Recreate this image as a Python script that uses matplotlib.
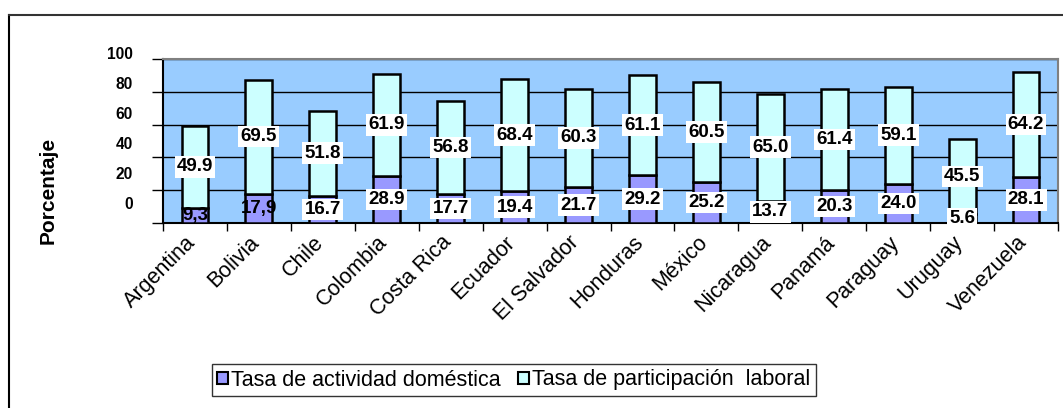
import numpy as np
import matplotlib
matplotlib.use("Agg")
import matplotlib.pyplot as plt
import matplotlib.transforms as mtransforms
from matplotlib.lines import Line2D

plt.rcParams['font.family'] = ['Liberation Sans', 'DejaVu Sans']

# Data
paises = ['Argentina', 'Bolivia', 'Chile', 'Colombia', 'Costa Rica', 'Ecuador',
          'El Salvador', 'Honduras', 'México', 'Nicaragua', 'Panamá', 'Paraguay',
          'Uruguay', 'Venezuela']
domestica = [9.3, 17.9, 16.7, 28.9, 17.7, 19.4, 21.7, 29.2, 25.2, 13.7, 20.3, 24.0, 5.6, 28.1]
laboral = [49.9, 69.5, 51.8, 61.9, 56.8, 68.4, 60.3, 61.1, 60.5, 65.0, 61.4, 59.1, 45.5, 64.2]
yticks = [0, 20, 40, 60, 80, 100]
# bottom labels drawn without white box and with decimal comma (as in the original)
sin_caja = ['Argentina', 'Bolivia']

c_dom = '#9999FF'
c_lab = '#CCFFFF'
c_bg = '#99CCFF'

W, H = 1063, 408
fig = plt.figure(figsize=(W / 100, H / 100), dpi=100)
ax = fig.add_axes([163 / W, 1 - 223 / H, 895 / W, 164 / H])
ax.set_facecolor(c_bg)

x = np.arange(len(paises))
dom = np.array(domestica)
lab = np.array(laboral)
ax.bar(x, dom, width=0.42, color=c_dom, edgecolor='black', linewidth=1.8, zorder=3,
       label='Tasa de actividad doméstica')
ax.bar(x, lab, bottom=dom, width=0.42, color=c_lab, edgecolor='black', linewidth=1.8, zorder=3,
       label='Tasa de participación  laboral')

# Data labels
box = dict(boxstyle='square,pad=0.12', fc='white', ec='none')
for i, p in enumerate(paises):
    if p in sin_caja:
        ax.text(x[i], dom[i] / 2, f"{dom[i]:.1f}".replace('.', ','), ha='center', va='center',
                fontsize=13.5, fontweight='bold', zorder=5, clip_on=False)
    else:
        ax.text(x[i], dom[i] / 2, f"{dom[i]:.1f}", ha='center', va='center',
                fontsize=13.5, fontweight='bold', bbox=box, zorder=5, clip_on=False)
    ax.text(x[i], dom[i] + lab[i] / 2, f"{lab[i]:.1f}", ha='center', va='center',
            fontsize=13.5, fontweight='bold', bbox=box, zorder=5)

ax.set_xlim(-0.5, len(paises) - 0.5)
ax.set_ylim(0, 100)

# Grid + ticks
ax.set_yticks(yticks)
ax.set_yticklabels([])
ax.yaxis.grid(True, color='black', linewidth=1.0, zorder=1)
ax.tick_params(axis='y', direction='out', length=8, width=1.0, color='black')

ax.set_xticks(x)
ax.set_xticklabels(paises, rotation=45, ha='right', fontsize=15.5)
ax.set_xticks(np.arange(len(paises) + 1) - 0.5, minor=True)
ax.tick_params(axis='x', which='major', length=0, pad=6.5)
ax.tick_params(axis='x', which='minor', direction='out', length=6, width=1.0, color='black')
shift = mtransforms.ScaledTranslation(5 / 100, 0, fig.dpi_scale_trans)
for t in ax.get_xticklabels():
    t.set_transform(t.get_transform() + shift)

# y tick labels sit a bit off the gridlines in the original
trans = mtransforms.blended_transform_factory(fig.transFigure, ax.transData)
for v in yticks:
    ax.text(133 / W, 11 + v * 0.915, str(v), transform=trans, ha='right', va='center',
            fontsize=11.2, fontweight='bold', clip_on=False)

for s in ['left', 'bottom']:
    ax.spines[s].set_color('black')
    ax.spines[s].set_linewidth(1.5)
for s in ['top', 'right']:
    ax.spines[s].set_color('#808080')
    ax.spines[s].set_linewidth(1.5)

fig.text(48 / W, 1 - 190 / H, 'Porcentaje', rotation=90, ha='center', va='center',
         fontsize=15, fontweight='bold')

leg = fig.legend(loc='center', bbox_to_anchor=(514 / W, 1 - 380 / H), ncol=2, fontsize=15.5,
                 frameon=True, fancybox=False, edgecolor='black', borderpad=0.25,
                 handlelength=0.5, handleheight=0.5, handletextpad=0.15, columnspacing=0.8)
leg.get_frame().set_linewidth(1.0)
for h in leg.legend_handles:
    h.set_linewidth(1.5)

# outer chart frame (only top and left visible)
fig.add_artist(Line2D([9 / W, 9 / W], [0, 1 - 15 / H], transform=fig.transFigure, color='black', lw=1.5))
fig.add_artist(Line2D([9 / W, 1], [1 - 15 / H, 1 - 15 / H], transform=fig.transFigure, color='#333333', lw=1.5))

fig.savefig('out.png', dpi=100)
